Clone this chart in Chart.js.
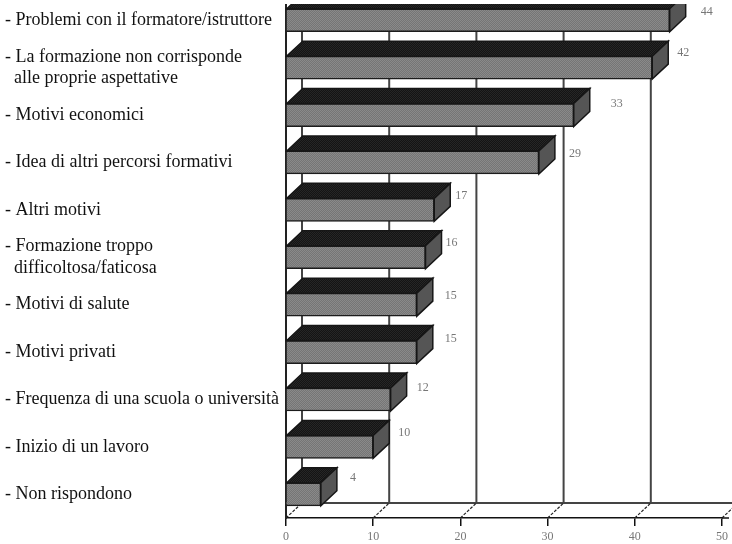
<!DOCTYPE html>
<html>
<head>
<meta charset="utf-8">
<style>
html, body { margin: 0; padding: 0; background: #fff; overflow: hidden; }
canvas { display: block; margin-top: -14px; }
</style>
<script src="https://cdn.jsdelivr.net/npm/chart.js@4"></script>
</head>
<body>
<canvas id="grafico" width="732" height="558"></canvas>
<script>
var categorie = [
    "- Problemi con il formatore/istruttore",
    ["- La formazione non corrisponde", "  alle proprie aspettative"],
    "- Motivi economici",
    "- Idea di altri percorsi formativi",
    "- Altri motivi",
    ["- Formazione troppo", "  difficoltosa/faticosa"],
    "- Motivi di salute",
    "- Motivi privati",
    "- Frequenza di una scuola o università",
    "- Inizio di un lavoro",
    "- Non rispondono"
];
var valori = [44, 42, 33, 29, 17, 16, 15, 15, 12, 10, 4];

// spostamento delle etichette dei valori rispetto all'angolo della barra
var etichettaDx = [37, 31, 43, 36, 27, 26, 34, 34, 32, 31, 32];
var etichettaDy = [-8, -15, -11, -9, -14, -14, -9, -13, -12, -14, -16];

var PROF_X = 16, PROF_Y = 15; // profondità dell'effetto 3D

function retino(c1, c2) {
    var p = document.createElement("canvas");
    p.width = 2; p.height = 2;
    var g = p.getContext("2d");
    g.fillStyle = c1; g.fillRect(0, 0, 2, 2);
    g.fillStyle = c2; g.fillRect(0, 0, 1, 1); g.fillRect(1, 1, 1, 1);
    return g.createPattern(p, "repeat");
}

function faccia(ctx, punti, fill) {
    ctx.beginPath();
    punti.forEach(function (p, i) { if (i) ctx.lineTo(p[0], p[1]); else ctx.moveTo(p[0], p[1]); });
    ctx.closePath();
    ctx.fillStyle = fill;
    ctx.fill();
    ctx.lineWidth = 1.5;
    ctx.strokeStyle = "#161616";
    ctx.stroke();
}

var effetto3d = {
    id: "effetto3d",
    beforeDatasetsDraw: function (chart) {
        var ctx = chart.ctx, a = chart.chartArea, sx = chart.scales.x;
        var fondo = a.bottom - PROF_Y;
        ctx.save();
        // griglia sulla parete di fondo e diagonali del pavimento
        ctx.strokeStyle = "#444";
        ctx.lineWidth = 2;
        [0, 10, 20, 30, 40, 50].forEach(function (t) {
            var x = sx.getPixelForValue(t);
            ctx.beginPath();
            ctx.moveTo(x + PROF_X, a.top);
            ctx.lineTo(x + PROF_X, fondo);
            ctx.stroke();
        });
        ctx.beginPath();
        ctx.moveTo(a.left, fondo);
        ctx.lineTo(732, fondo);
        ctx.stroke();
        ctx.strokeStyle = "#222";
        ctx.lineWidth = 1.2;
        ctx.setLineDash([3, 1.5]);
        [0, 10, 20, 30, 40, 50].forEach(function (t) {
            var x = sx.getPixelForValue(t);
            ctx.beginPath();
            ctx.moveTo(x, a.bottom);
            ctx.lineTo(x + PROF_X, fondo);
            ctx.stroke();
        });
        ctx.setLineDash([]);
        ctx.restore();
    },
    afterDatasetsDraw: function (chart) {
        var ctx = chart.ctx, a = chart.chartArea;
        var meta = chart.getDatasetMeta(0);
        var sopra = retino("#141414", "#262626");
        ctx.save();
        meta.data.forEach(function (b, i) {
            var t = b.y - b.height / 2, f = b.y + b.height / 2;
            faccia(ctx, [[b.base, t], [b.base + PROF_X, t - PROF_Y], [b.x + PROF_X, t - PROF_Y], [b.x, t]], sopra);
            faccia(ctx, [[b.x, t], [b.x + PROF_X, t - PROF_Y], [b.x + PROF_X, f - PROF_Y], [b.x, f]], "#555");
            // etichetta del valore
            ctx.fillStyle = "#777";
            ctx.font = "12px 'Liberation Serif'";
            ctx.textAlign = "center";
            ctx.textBaseline = "middle";
            ctx.fillText(String(valori[i]), b.x + etichettaDx[i], b.y + etichettaDy[i]);
        });
        // asse frontale oltre il 50
        ctx.strokeStyle = "#111";
        ctx.lineWidth = 1.5;
        ctx.beginPath();
        ctx.moveTo(a.right, a.bottom);
        ctx.lineTo(729, a.bottom);
        ctx.stroke();
        // il riferimento è tagliato in alto
        ctx.fillStyle = "#fff";
        ctx.fillRect(a.left - 3, 0, 732, 18);
        ctx.restore();
    }
};

new Chart(document.getElementById("grafico"), {
    type: "bar",
    data: {
        labels: categorie,
        datasets: [{
            data: valori,
            backgroundColor: retino("#757575", "#8a8a8a"),
            borderColor: "#1c1c1c",
            borderWidth: 1.5,
            barThickness: 23
        }]
    },
    options: {
        indexAxis: "y",
        responsive: false,
        animation: false,
        devicePixelRatio: 1,
        layout: { padding: { left: 5, right: 10, top: 0, bottom: 0 } },
        plugins: { legend: { display: false }, tooltip: { enabled: false } },
        scales: {
            x: {
                min: 0, max: 50,
                afterFit: function (s) { s.height = 26; },
                border: { color: "#111", width: 1.5 },
                grid: { drawOnChartArea: false, color: "#111", tickLength: 8, lineWidth: 1.5 },
                ticks: { stepSize: 10, color: "#777", padding: 4, maxRotation: 0,
                    font: { family: "'Liberation Serif'", size: 12 } }
            },
            y: {
                afterFit: function (s) { s.width = 281; },
                border: { color: "#222", width: 2 },
                grid: { display: false, drawTicks: false },
                ticks: { crossAlign: "far", color: "#111", padding: 0, autoSkip: false,
                    font: { family: "'Liberation Serif'", size: 18, lineHeight: 1.17 } }
            }
        }
    },
    plugins: [effetto3d]
});
</script>
</body>
</html>
